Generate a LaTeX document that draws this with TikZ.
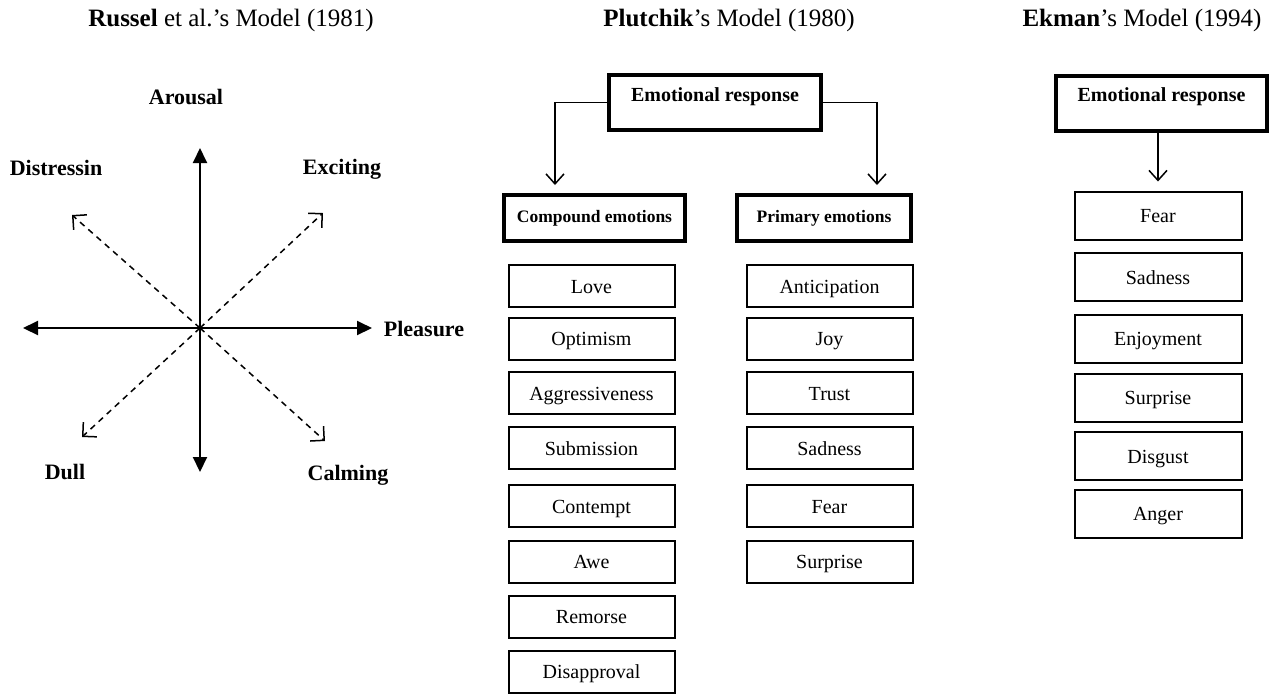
\documentclass[tikz,border=0pt]{standalone}
\usepackage{fontspec}
\setmainfont{Liberation Serif}
\usepackage{tikz}
\usetikzlibrary{arrows.meta}
\usetikzlibrary{positioning}
\tikzstyle{title} = [font=\fontsize{12.5}{15}\selectfont]
\tikzstyle{axislabel} = [font=\fontsize{11}{13}\selectfont\bfseries, text depth=0pt]
\tikzstyle{axis} = [line width=1pt, {Triangle[length=7.5pt,width=7pt]}-{Triangle[length=7.5pt,width=7pt]}]
\tikzstyle{diag} = [dashed, dash pattern=on 3pt off 2.5pt, line width=0.75pt, -{Straight Barb[length=5pt,width=10pt]}]
\tikzstyle{arrow} = [line width=0.75pt, -{Straight Barb[length=5pt,width=9pt]}]
\tikzstyle{head} = [draw=black, line width=2pt, inner sep=0pt, text height=13pt, text depth=14.5pt, font=\fontsize{10}{12}\selectfont\bfseries]
\tikzstyle{group} = [draw=black, line width=2pt, inner sep=0pt, minimum height=23pt, text height=6.3pt, text depth=2pt, font=\fontsize{8.75}{10}\selectfont\bfseries]
\tikzstyle{box} = [draw=black, line width=1pt, inner sep=0pt, minimum width=83pt, minimum height=21pt, text height=8.6pt, text depth=1.2pt, font=\fontsize{10}{12}\selectfont]
\tikzstyle{ebox} = [box, minimum width=83.5pt, minimum height=24pt]

\begin{document}
\begin{tikzpicture}[x=0.5pt, y=-0.5pt]
    \useasboundingbox (0,0) rectangle (1271,693);

    % Russel
    \node [title] (rtitle) at (231,20) {\textbf{Russel} et al.’s Model (1981)};
    \coordinate (o) at (200,328);
    \coordinate (up) at (200,148);
    \coordinate (down) at (200,472);
    \coordinate (west) at (23,328);
    \coordinate (east) at (372,328);
    \coordinate (nw) at (72,215);
    \coordinate (ne) at (323,213);
    \coordinate (sw) at (82,437);
    \coordinate (se) at (325,441);
    \draw [axis] (up) -- (down);
    \draw [axis] (west) -- (east);
    \draw [diag] (o) -- (nw);
    \draw [diag] (o) -- (ne);
    \draw [diag] (o) -- (sw);
    \draw [diag] (o) -- (se);
    \node [axislabel] (arousal) at (186,97) {Arousal};
    \node [axislabel] (pleasure) at (424,329) {Pleasure};
    \node [axislabel] (distressin) at (56,168) {Distressin};
    \node [axislabel] (exciting) at (342,167) {Exciting};
    \node [axislabel] (dull) at (65,472) {Dull};
    \node [axislabel] (calming) at (348,473) {Calming};

    % Plutchik
    \node [title] (ptitle) at (729,20) {\textbf{Plutchik}’s Model (1980)};
    \node [head, minimum width=106pt] (er1) at (715,102.5) {Emotional response};
    \node [group, minimum width=90.5pt] (ce) at (594.5,218) {Compound emotions};
    \node [group, minimum width=87pt] (pe) at (824,218) {Primary emotions};
    \draw [arrow, shorten >=4pt] (er1.west) -| ([xshift=26.5pt]ce.north west);
    \draw [arrow, shorten >=4pt] (er1.east) -| ([xshift=-18pt]pe.north east);
    \node [box] (love) at (591.5,286) {Love};
    \node [box] (optimism) at (591.5,338.5) {Optimism};
    \node [box] (aggressiveness) at (591.5,393) {Aggressiveness};
    \node [box] (submission) at (591.5,448) {Submission};
    \node [box] (contempt) at (591.5,506) {Contempt};
    \node [box] (awe) at (591.5,561.5) {Awe};
    \node [box] (remorse) at (591.5,616.5) {Remorse};
    \node [box] (disapproval) at (591.5,671.5) {Disapproval};
    \node [box] (anticipation) at (829.5,286) {Anticipation};
    \node [box] (joy) at (829.5,338.5) {Joy};
    \node [box] (trust) at (829.5,393) {Trust};
    \node [box] (psadness) at (829.5,448) {Sadness};
    \node [box] (pfear) at (829.5,506) {Fear};
    \node [box] (psurprise) at (829.5,561.5) {Surprise};

    % Ekman
    \node [title] (etitle) at (1142,20) {\textbf{Ekman}’s Model (1994)};
    \node [head, minimum width=105.5pt] (er2) at (1161.5,103) {Emotional response};
    \node [ebox] (efear) at (1158,215.5) {Fear};
    \node [ebox] (esadness) at (1158,277) {Sadness};
    \node [ebox] (enjoyment) at (1158,338.5) {Enjoyment};
    \node [ebox] (esurprise) at (1158,397.5) {Surprise};
    \node [ebox] (disgust) at (1158,456) {Disgust};
    \node [ebox] (anger) at (1158,513.5) {Anger};
    \draw [arrow, shorten >=4.5pt] (er2.south -| efear.north) -- (efear.north);
\end{tikzpicture}
\end{document}
